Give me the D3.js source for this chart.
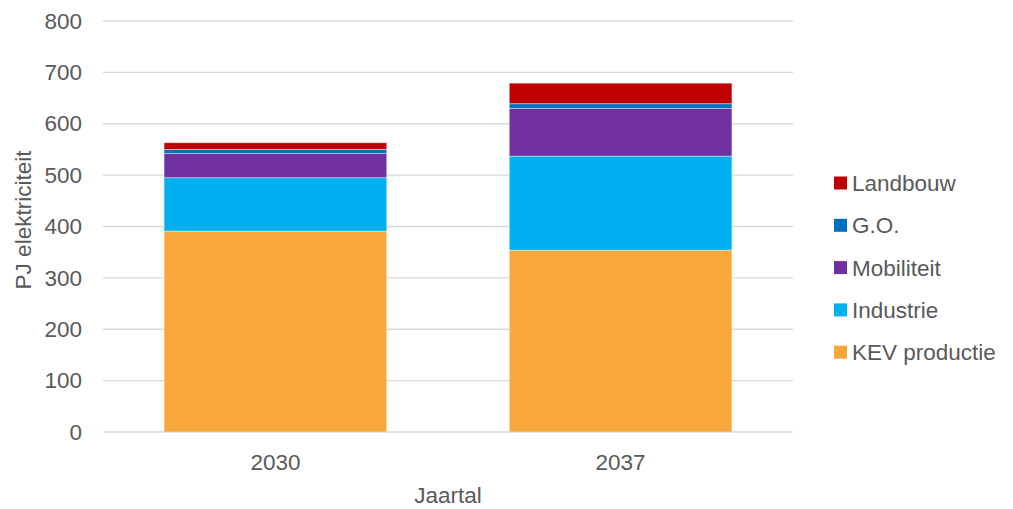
<!DOCTYPE html>
<html>
<head>
<meta charset="utf-8">
<script src="https://cdn.jsdelivr.net/npm/d3@7"></script>
<style>
  body { margin: 0; background: #fff; }
  text { font-family: "Liberation Sans", Arial, sans-serif; fill: #595959; }
</style>
</head>
<body>
<div id="chart"></div>
<script>
// data (PJ elektriciteit)
var years = ["2030", "2037"];
var series = ["KEV productie", "Industrie", "Mobiliteit", "G.O.", "Landbouw"];
var colors = ["#f8a83b", "#00b0f0", "#7030a0", "#0070c0", "#c00000"];
var kev = [391, 354];
var industrie = [104, 183];
var mobiliteit = [47, 93];
var go = [8, 9];
var landbouw = [13, 40];
var yTicks = [0, 100, 200, 300, 400, 500, 600, 700, 800];

var width = 1013, height = 509;
var margin = {left: 103, right: 220, top: 21, bottom: 77};

var rows = years.map(function(y, i) {
  return {year: y, "KEV productie": kev[i], "Industrie": industrie[i],
          "Mobiliteit": mobiliteit[i], "G.O.": go[i], "Landbouw": landbouw[i]};
});

var svg = d3.select("#chart").append("svg")
  .attr("width", width)
  .attr("height", height);

var x = d3.scaleBand()
  .domain(years)
  .range([margin.left, width - margin.right])
  .paddingInner(0.355)
  .paddingOuter(0.177);

var y = d3.scaleLinear()
  .domain([0, 800])
  .range([height - margin.bottom, margin.top]);

// gridlines
svg.append("g")
  .selectAll("line")
  .data(yTicks)
  .enter().append("line")
  .attr("x1", margin.left)
  .attr("x2", width - margin.right)
  .attr("y1", function(d) { return y(d); })
  .attr("y2", function(d) { return y(d); })
  .attr("stroke", "#d9d9d9")
  .attr("stroke-width", 1.3);

// y axis labels
var yAxis = svg.append("g")
  .attr("transform", "translate(" + margin.left + ",0)")
  .call(d3.axisLeft(y).tickValues(yTicks).tickSize(0).tickPadding(21));
yAxis.select(".domain").remove();
yAxis.selectAll("text")
  .style("font-size", "22.5px")
  .attr("fill", "#595959")
  .style("font-family", "Liberation Sans, Arial, sans-serif");

// x axis labels
var xAxis = svg.append("g")
  .attr("transform", "translate(0," + y(0) + ")")
  .call(d3.axisBottom(x).tickSize(0).tickPadding(22));
xAxis.select(".domain").remove();
xAxis.selectAll("text")
  .style("font-size", "22.5px")
  .attr("fill", "#595959")
  .style("font-family", "Liberation Sans, Arial, sans-serif");

// stacked bars
var stack = d3.stack().keys(series);
var layers = stack(rows);

svg.append("g")
  .selectAll("g")
  .data(layers)
  .enter().append("g")
  .attr("fill", function(d, i) { return colors[i]; })
  .selectAll("rect")
  .data(function(d) { return d; })
  .enter().append("rect")
  .attr("x", function(d) { return x(d.data.year); })
  .attr("width", x.bandwidth())
  .attr("y", function(d) { return y(d[1]); })
  .attr("height", function(d) { return y(d[0]) - y(d[1]); })
  .attr("stroke", "#ffffff")
  .attr("stroke-opacity", 0.5)
  .attr("stroke-width", 0.8);

// axis titles
svg.append("text")
  .attr("x", (margin.left + width - margin.right) / 2)
  .attr("y", 503)
  .attr("text-anchor", "middle")
  .style("font-size", "22.5px")
  .text("Jaartal");

svg.append("text")
  .attr("transform", "translate(31,220) rotate(-90)")
  .attr("text-anchor", "middle")
  .style("font-size", "22.5px")
  .text("PJ elektriciteit");

// legend, top item = last series
var legend = svg.append("g")
  .selectAll("g")
  .data(series.slice().reverse())
  .enter().append("g")
  .attr("transform", function(d, i) { return "translate(834," + (183 + i * 42.3) + ")"; });

legend.append("rect")
  .attr("x", 0)
  .attr("y", -6.5)
  .attr("width", 13)
  .attr("height", 13)
  .attr("fill", function(d) { return colors[series.indexOf(d)]; });

legend.append("text")
  .attr("x", 18)
  .attr("dy", "0.36em")
  .style("font-size", "22.5px")
  .text(function(d) { return d; });
</script>
</body>
</html>
